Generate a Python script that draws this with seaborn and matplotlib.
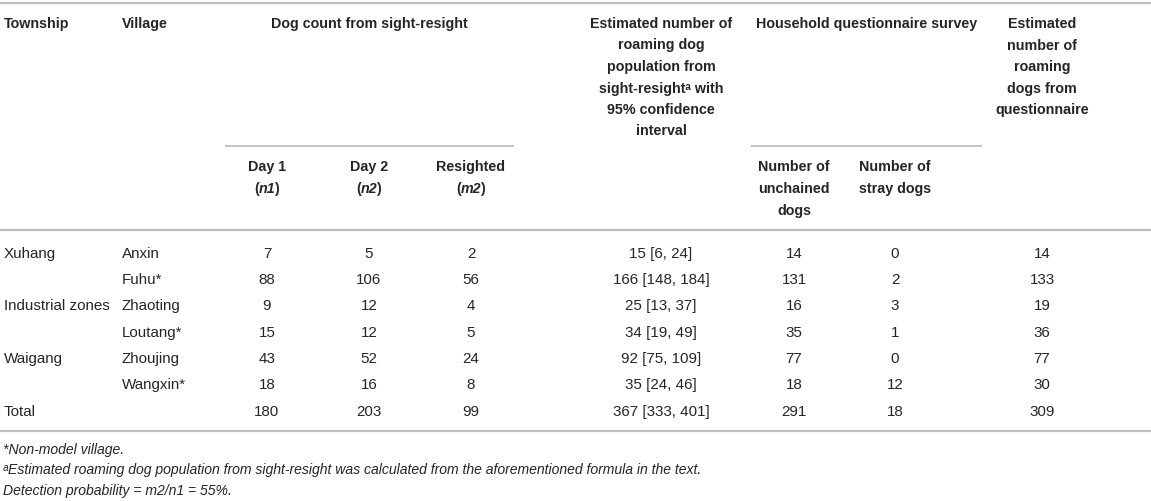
import matplotlib.pyplot as plt
import seaborn as sns

sns.set_theme(style="white")
plt.rcParams["font.family"] = ["Liberation Sans", "DejaVu Sans"]

# table values
townships = ["Xuhang", "", "Industrial zones", "", "Waigang", "", "Total"]
villages = ["Anxin", "Fuhu*", "Zhaoting", "Loutang*", "Zhoujing", "Wangxin*", ""]
day1 = [7, 88, 9, 15, 43, 18, 180]
day2 = [5, 106, 12, 12, 52, 16, 203]
resighted = [2, 56, 4, 5, 24, 8, 99]
est_pop = [15, 166, 25, 34, 92, 35, 367]
ci_low = [6, 148, 13, 19, 75, 24, 333]
ci_high = [24, 184, 37, 49, 109, 46, 401]
unchained = [14, 131, 16, 35, 77, 18, 291]
stray = [0, 2, 3, 1, 0, 12, 18]
est_quest = [14, 133, 19, 36, 77, 30, 309]

footnotes = [
    "*Non-model village.",
    "\u1d43Estimated roaming dog population from sight-resight was calculated from the aforementioned formula in the text.",
    "Detection probability = m2/n1 = 55%.",
]

TXT = "#252525"
LINE = "#bdbdbd"
FS_HEAD = 10.3
FS_BODY = 10.9
FS_NOTE = 10.1

fig = plt.figure(figsize=(11.51, 5.02), dpi=100)
ax = fig.add_axes([0, 0, 1, 1])
ax.set_xlim(0, 1151)
ax.set_ylim(502, 0)
ax.axis("off")


def put(x, y, s, ha="center", weight="normal", style="normal", size=FS_BODY):
    return ax.text(x, y, s, ha=ha, va="center", fontsize=size, color=TXT,
                   fontweight=weight, fontstyle=style)


def put_mixed(x, y, parts):
    # bold pieces, some italic, centred on x as a whole
    fig.canvas.draw()
    r = fig.canvas.get_renderer()
    texts = [put(0, y, s, ha="left", weight="bold", style=st, size=FS_HEAD)
             for s, st in parts]
    widths = [t.get_window_extent(r).width for t in texts]
    left = x - sum(widths) / 2
    for t, w in zip(texts, widths):
        t.set_x(left)
        left += w


# rules
ax.hlines([4, 231, 432], 0, 1151, color=LINE, lw=1.6)
ax.hlines(147, 225, 514, color=LINE, lw=1.3)
ax.hlines(147, 751, 982, color=LINE, lw=1.3)

# header
put(4, 24, "Township", ha="left", weight="bold", size=FS_HEAD)
put(122, 24, "Village", ha="left", weight="bold", size=FS_HEAD)
put(369, 24, "Dog count from sight-resight", weight="bold", size=FS_HEAD)
put(867, 24, "Household questionnaire survey", weight="bold", size=FS_HEAD)

est_head = ["Estimated number of", "roaming dog", "population from",
            "sight-resight\u1d43 with", "95% confidence", "interval"]
for i, s in enumerate(est_head):
    put(661, 24 + i * 21.5, s, weight="bold", size=FS_HEAD)

q_head = ["Estimated", "number of", "roaming", "dogs from", "questionnaire"]
for i, s in enumerate(q_head):
    put(1042, 24 + i * 21.5, s, weight="bold", size=FS_HEAD)

for x, top, sym in [(267, "Day 1", "n1"), (369, "Day 2", "n2"),
                    (471, "Resighted", "m2")]:
    put(x, 167, top, weight="bold", size=FS_HEAD)
    put_mixed(x, 189, [("(", "normal"), (sym, "italic"), (")", "normal")])

for x, lines in [(794, ["Number of", "unchained", "dogs"]),
                 (895, ["Number of", "stray dogs"])]:
    for i, s in enumerate(lines):
        put(x, 167 + i * 22, s, weight="bold", size=FS_HEAD)

# body rows
row_y = [254, 280, 306, 333, 359, 385, 412]
for i, y in enumerate(row_y):
    put(4, y, townships[i], ha="left")
    put(122, y, villages[i], ha="left")
    put(267, y, str(day1[i]))
    put(369, y, str(day2[i]))
    put(471, y, str(resighted[i]))
    put(661, y, f"{est_pop[i]} [{ci_low[i]}, {ci_high[i]}]")
    put(794, y, str(unchained[i]))
    put(895, y, str(stray[i]))
    put(1042, y, str(est_quest[i]))

# footnotes
for i, s in enumerate(footnotes):
    put(3, 450 + i * 20.5, s, ha="left", style="italic", size=FS_NOTE)

fig.savefig("out.png", dpi=100)
